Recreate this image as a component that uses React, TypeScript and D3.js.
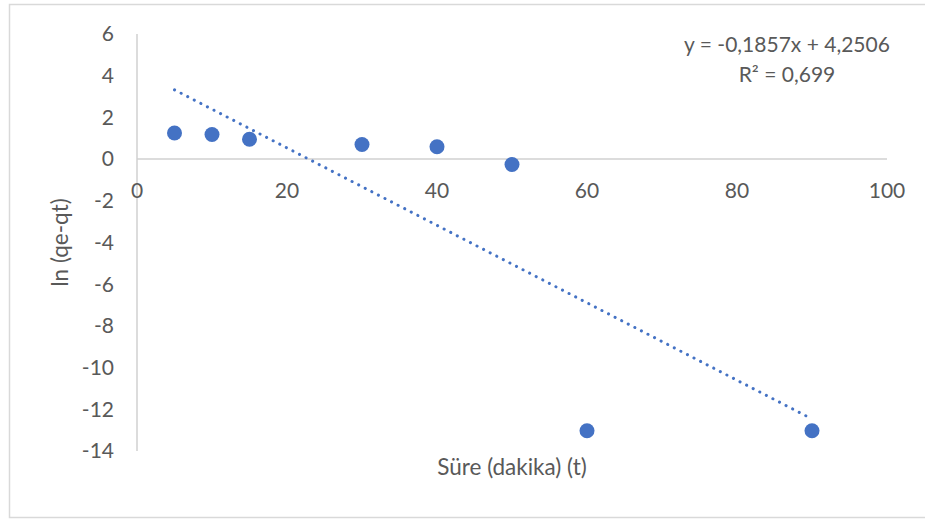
import React from "react";
import * as d3 from "d3";

const xValues = [5, 10, 15, 30, 40, 50, 60, 90];
const yValues = [1.25, 1.18, 0.95, 0.7, 0.59, -0.26, -13.03, -13.03];
const xTicks = [0, 20, 40, 60, 80, 100];
const yTicks = [6, 4, 2, 0, -2, -4, -6, -8, -10, -12, -14];
const slope = -0.1857;
const intercept = 4.2506;
const eqText = "y = -0,1857x + 4,2506";
const r2Text = "R² = 0,699";
const xTitle = "Süre (dakika) (t)";
const yTitle = "ln (qe-qt)";

const W = 925;
const H = 520;
const FONT = "Lato, 'Open Sans', sans-serif";
const TXT = "#595959";
const BLUE = "#4472C4";

export default function App() {
  const x = d3.scaleLinear().domain([0, 100]).range([137, 887]);
  const y = d3.scaleLinear().domain([-14, 6]).range([451, 34]);
  const data = xValues.map((v, i) => ({ x: v, y: yValues[i] }));
  const xMin = d3.min(xValues) as number;
  const xMax = d3.max(xValues) as number;
  const trend = d3.line<number>().x((d) => x(d)).y((d) => y(slope * d + intercept));

  return (
    <svg
      width={W}
      height={H}
      style={{ position: "absolute", left: 0, top: 0, background: "#fff" }}
      fontFamily={FONT}
    >
      <rect x={9.5} y={4.5} width={W} height={513} fill="#fff" stroke="#d9d9d9" strokeWidth={1.5} />
      <line x1={x(0)} x2={x(0)} y1={y(6)} y2={y(-14)} stroke="#d0d0d0" strokeWidth={1.5} />
      <line x1={x(0)} x2={x(100)} y1={y(0)} y2={y(0)} stroke="#d0d0d0" strokeWidth={1.5} />
      {yTicks.map((t) => (
        <text key={t} x={114} y={y(t)} dy="0.35em" textAnchor="end" fontSize={21} fill={TXT}>
          {t}
        </text>
      ))}
      {xTicks.map((t) => (
        <text key={t} x={x(t)} y={y(0) + 32} dy="0.35em" textAnchor="middle" fontSize={21} fill={TXT}>
          {t}
        </text>
      ))}
      <path
        d={trend([xMin, xMax]) || ""}
        fill="none"
        stroke={BLUE}
        strokeWidth={3}
        strokeLinecap="round"
        strokeDasharray="0.1 7.3"
      />
      {data.map((d, i) => (
        <circle key={i} cx={x(d.x)} cy={y(d.y)} r={7.5} fill={BLUE} />
      ))}
      <text x={787} y={45} dy="0.35em" textAnchor="middle" fontSize={21} fill={TXT}>
        {eqText}
      </text>
      <text x={787} y={75} dy="0.35em" textAnchor="middle" fontSize={21} fill={TXT}>
        {r2Text}
      </text>
      <text x={512} y={467} dy="0.35em" textAnchor="middle" fontSize={22.5} fill={TXT}>
        {xTitle}
      </text>
      <text
        transform={`translate(60,${(y(6) + y(-14)) / 2}) rotate(-90)`}
        dy="0.35em"
        textAnchor="middle"
        fontSize={22.5}
        fill={TXT}
      >
        {yTitle}
      </text>
    </svg>
  );
}
